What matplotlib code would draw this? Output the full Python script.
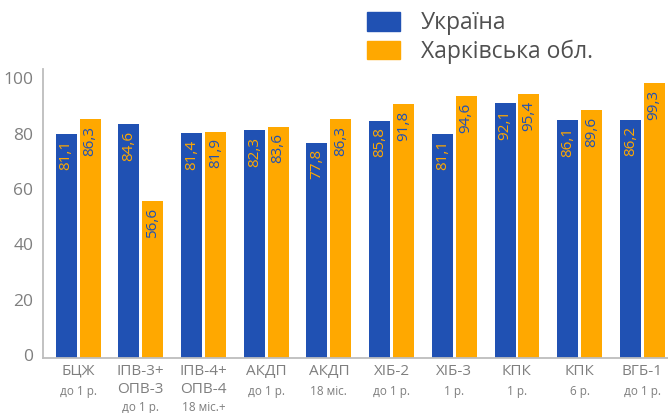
import matplotlib.pyplot as plt
import matplotlib.transforms as mtransforms
from matplotlib.patches import Rectangle

plt.rcParams['font.family'] = ['Open Sans', 'DejaVu Sans']

# data
main_labels = ['БЦЖ', 'ІПВ-3+\nОПВ-3', 'ІПВ-4+\nОПВ-4', 'АКДП', 'АКДП',
               'ХІБ-2', 'ХІБ-3', 'КПК', 'КПК', 'ВГБ-1']
sub_labels = ['до 1 р.', 'до 1 р.', '18 міс.+', 'до 1 р.', '18 міс.',
              'до 1 р.', '1 р.', '1 р.', '6 р.', 'до 1 р.']
ukraine = [81.1, 84.6, 81.4, 82.3, 77.8, 85.8, 81.1, 92.1, 86.1, 86.2]
kharkiv = [86.3, 56.6, 81.9, 83.6, 86.3, 91.8, 94.6, 95.4, 89.6, 99.3]
yticks = [0, 20, 40, 60, 80, 100]

blue = '#2051B3'
orange = '#FFA800'
grey = '#7f7f7f'

fig = plt.figure(figsize=(6.68, 4.14), dpi=100)
ax = fig.add_axes([43 / 668, 55 / 414, 625 / 668, 289 / 414])

x = list(range(len(main_labels)))
w = 0.335
off = 0.19
ax.bar([i - off for i in x], ukraine, width=w, color=blue, zorder=2)
ax.bar([i + off for i in x], kharkiv, width=w, color=orange, zorder=2)

def fmt(v):
    return f'{v:.1f}'.replace('.', ',')

for i in x:
    ax.text(i - off, ukraine[i] - 2.0, fmt(ukraine[i]), rotation=90,
            ha='center', va='top', color=orange, fontsize=11)
    ax.text(i + off, kharkiv[i] - 2.0, fmt(kharkiv[i]), rotation=90,
            ha='center', va='top', color=blue, fontsize=11)

ax.set_xlim(-0.56, 9.41)
ax.set_ylim(0, 104.5)
ax.set_yticks(yticks)
ax.set_yticklabels([str(t) for t in yticks], fontsize=12.5, color=grey)
ax.tick_params(axis='y', length=0, pad=7)
shift = mtransforms.ScaledTranslation(0, 4 / 100, fig.dpi_scale_trans)
for lbl in ax.get_yticklabels():
    lbl.set_transform(lbl.get_transform() + shift)
ax.set_xticks([])
for s in ['top', 'right']:
    ax.spines[s].set_visible(False)
for s in ['left', 'bottom']:
    ax.spines[s].set_color('#bdbdbd')
    ax.spines[s].set_linewidth(1.3)

# category labels (positions in pixels below the baseline)
def ypx(py):
    return -(py - 359) / 289

tr = ax.get_xaxis_transform()
for i in x:
    lines = main_labels[i].split('\n')
    for k, line in enumerate(lines):
        ax.text(i, ypx(364 + 18 * k), line, transform=tr,
                ha='center', va='top', color=grey, fontsize=11)
    sub_y = 385 if len(lines) == 1 else 401
    ax.text(i, ypx(sub_y), sub_labels[i], transform=tr,
            ha='center', va='top', color=grey, fontsize=8.5)

# legend
fig.patches.append(Rectangle((367 / 668, 1 - 32 / 414), 33 / 668, 19 / 414,
                             transform=fig.transFigure, color=blue))
fig.patches.append(Rectangle((367 / 668, 1 - 60 / 414), 33 / 668, 18 / 414,
                             transform=fig.transFigure, color=orange))
fig.text(421 / 668, 1 - 23 / 414, 'Україна', fontsize=16.5, color='#505050', va='center')
fig.text(421 / 668, 1 - 52 / 414, 'Харківська обл.', fontsize=16.5, color='#505050', va='center')

fig.savefig('out.png', dpi=100)
